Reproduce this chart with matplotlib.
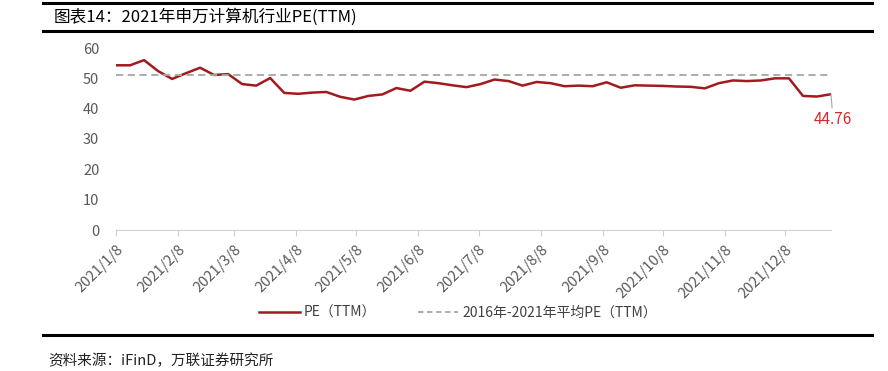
import matplotlib
matplotlib.use('Agg')
import matplotlib.pyplot as plt
import matplotlib.dates as mdates
from matplotlib.lines import Line2D
import numpy as np
import datetime as dt

plt.rcParams['font.family'] = ['Noto Sans CJK SC', 'DejaVu Sans']

# weekly PE(TTM) values, first week 2021/1/8
pe_values = [54.3, 54.3, 56.0, 52.4, 49.8, 51.7, 53.5, 51.1, 51.4, 48.1,
             47.6, 50.1, 45.2, 44.9, 45.3, 45.5, 43.9, 43.0, 44.2, 44.7,
             46.8, 45.9, 48.9, 48.4, 47.7, 47.1, 48.1, 49.6, 49.1, 47.6,
             48.8, 48.4, 47.4, 47.6, 47.4, 48.7, 46.9, 47.7, 47.6, 47.5,
             47.3, 47.2, 46.7, 48.4, 49.3, 49.1, 49.3, 50.0, 50.0, 44.2,
             44.0, 44.76]
pe_avg = 51.1
start = dt.date(2021, 1, 8)
dates = [start + dt.timedelta(days=7 * i) for i in range(len(pe_values))]
tick_dates = [dt.date(2021, m, 8) for m in range(1, 13)]
tick_labels = ['2021/%d/8' % m for m in range(1, 13)]
y_ticks = [0, 10, 20, 30, 40, 50, 60]

title = '图表14：2021年申万计算机行业PE(TTM)'
source = '资料来源：iFinD，万联证券研究所'
label_pe = 'PE（TTM）'
label_avg = '2016年-2021年平均PE（TTM）'

red = '#A11A1E'
grey = '#A6A6A6'
tick_grey = '#595959'

fig = plt.figure(figsize=(8.88, 3.71), dpi=100)
ax = fig.add_axes([116 / 888, 1 - 230 / 371, (831 - 116) / 888, (230 - 48) / 371])

ax.plot(dates, pe_values, color=red, lw=1.8, solid_joinstyle='round')
ax.plot([dates[0], dates[-1]], [pe_avg, pe_avg], color=grey, lw=1.3, ls=(0, (4, 2.5)))

ax.set_xlim(dates[0], dates[-1])
ax.set_ylim(0, 60)
ax.set_yticks(y_ticks)
ax.set_xticks(tick_dates)
ax.set_xticklabels(tick_labels, rotation=45, ha='right', rotation_mode='anchor')
ax.tick_params(axis='y', length=0, labelsize=10.5, labelcolor=tick_grey, pad=12)
ax.tick_params(axis='x', length=4, color='#D0D0D0', labelsize=10.5, labelcolor=tick_grey, pad=5)
for s in ['top', 'right', 'left']:
    ax.spines[s].set_visible(False)
ax.spines['bottom'].set_color('#D0D0D0')

# last value label
ax.annotate('44.76', xy=(dates[-1], pe_values[-1]), xytext=(dates[-1] + dt.timedelta(days=1), 36.5),
            ha='center', va='center', color='#D62A2A', fontsize=11,
            arrowprops=dict(arrowstyle='-', color=grey, lw=0.8, shrinkA=0, shrinkB=0))

# legend
handles = [Line2D([], [], color=red, lw=1.8), Line2D([], [], color=grey, lw=1.3, ls=(0, (3, 2)))]
fig.legend(handles, [label_pe, label_avg], loc='center', bbox_to_anchor=(458 / 888, 1 - 313 / 371),
           ncol=2, frameon=False, fontsize=10, handlelength=2.9, columnspacing=3.0, handletextpad=0.3,
           labelcolor='#404040')

# title bar and footer
fig.add_artist(Line2D([43 / 888, 872 / 888], [1 - 3 / 371] * 2, color='black', lw=2.2))
fig.add_artist(Line2D([43 / 888, 872 / 888], [1 - 31 / 371] * 2, color='black', lw=2.2))
fig.add_artist(Line2D([43 / 888, 872 / 888], [1 - 335 / 371] * 2, color='black', lw=2.2))
fig.text(54 / 888, 1 - 17 / 371, title, fontsize=12, va='center', ha='left', color='black')
fig.text(48 / 888, 1 - 361 / 371, source, fontsize=10.5, va='center', ha='left', color='#222222', style='italic')

fig.savefig('out.png', dpi=100)
